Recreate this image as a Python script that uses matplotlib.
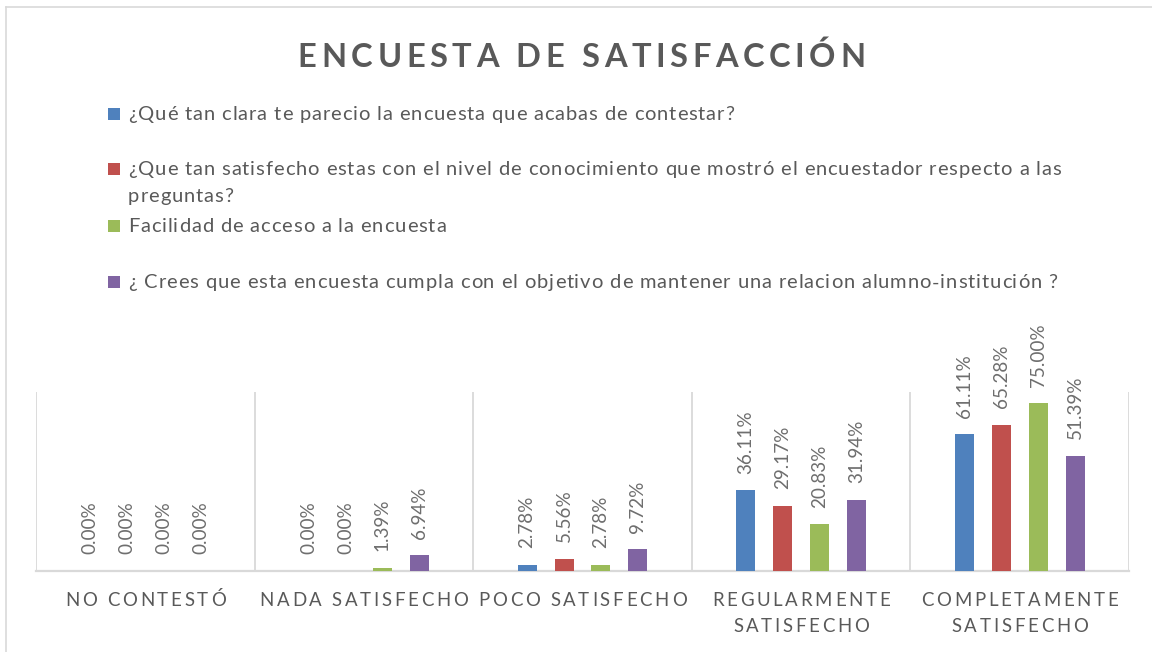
import matplotlib
matplotlib.use("Agg")
import matplotlib.pyplot as plt
from matplotlib.font_manager import FontProperties
from matplotlib.lines import Line2D
from matplotlib.patches import Rectangle
import numpy as np

# ---- data ----
title = "ENCUESTA DE SATISFACCIÓN"
categories = ["NO CONTESTÓ", "NADA SATISFECHO", "POCO SATISFECHO",
              "REGULARMENTE\nSATISFECHO", "COMPLETAMENTE\nSATISFECHO"]
series_names = [
    "¿Qué tan clara te parecio la encuesta que acabas de contestar?",
    "¿Que tan satisfecho estas con el nivel de conocimiento que mostró el encuestador respecto a las\npreguntas?",
    "Facilidad de acceso a la encuesta",
    "¿ Crees que esta encuesta cumpla con el objetivo de mantener una relacion alumno-institución ?",
]
clara = [0.00, 0.00, 2.78, 36.11, 61.11]
conocimiento = [0.00, 0.00, 5.56, 29.17, 65.28]
acceso = [0.00, 1.39, 2.78, 20.83, 75.00]
objetivo = [0.00, 6.94, 9.72, 31.94, 51.39]
series_values = [clara, conocimiento, acceso, objetivo]
colors = ["#4F81BD", "#C0504D", "#9BBB59", "#8064A2"]

# ---- layout ----
W, H, DPI = 1152, 652, 100
TEXT = "#595959"
LABEL = "#6E6E6E"
GRID = "#D9D9D9"
FONT = "Lato"

fig = plt.figure(figsize=(W / DPI, H / DPI), dpi=DPI)
fig.patch.set_facecolor("white")
renderer = fig.canvas.get_renderer()


def fx(px):
    return px / W


def fy(py):
    return 1 - py / H


def advance(s, prop):
    w, _, _ = renderer.get_text_width_height_descent(s + "|", prop, ismath=False)
    w0, _, _ = renderer.get_text_width_height_descent("|", prop, ismath=False)
    return w - w0


def spaced_text(text, x, baseline, prop, track, color, ha="center"):
    """Draw text with extra letter spacing (pixels), anchored at x."""
    total = advance(text, prop) + track * (len(text) - 1)
    x0 = x - total / 2 if ha == "center" else x
    for i, ch in enumerate(text):
        if ch == " ":
            continue
        xi = x0 + advance(text[:i], prop) + track * i
        fig.text(fx(xi), fy(baseline), ch, fontproperties=prop, color=color,
                 ha="left", va="baseline")


# chart-area border (left and top edges)
fig.add_artist(Line2D([fx(6), fx(6)], [fy(7), fy(H)], color=GRID, lw=1.2))
fig.add_artist(Line2D([fx(6), fx(W)], [fy(7), fy(7)], color=GRID, lw=1.2))

# title
title_prop = FontProperties(family=FONT, weight="bold", size=23.5)
spaced_text(title, 581.5, 66.7, title_prop, 4.6, TEXT)

# legend
leg_prop = FontProperties(family=FONT, size=14.5)
row_centers = [113, 168, 225, 281]
line_gap = 27
for name, col, yc in zip(series_names, colors, row_centers):
    fig.add_artist(Rectangle((fx(108), fy(yc + 7)), 12 / W, 12 / H,
                             transform=fig.transFigure, facecolor=col,
                             edgecolor="none"))
    for k, line in enumerate(name.split("\n")):
        spaced_text(line, 128, yc + 7.3 + k * line_gap, leg_prop, 0.9, TEXT,
                    ha="left")

# plot area
left, right, top, bottom = 36, 1129, 392, 571
ax = fig.add_axes([fx(left), fy(bottom), (right - left) / W, (bottom - top) / H])
ax.set_xlim(-0.5, len(categories) - 0.5)
ax.set_ylim(0, 80)
for s in ("left", "right", "top"):
    ax.spines[s].set_visible(False)
ax.spines["bottom"].set_color(GRID)
ax.spines["bottom"].set_linewidth(1.6)
ax.set_yticks([])
ax.set_xticks([])
ax.set_xticks(np.arange(-0.5, len(categories), 1.0), minor=True)
ax.tick_params(which="both", length=0, labelbottom=False)
ax.grid(True, which="minor", axis="x", color=GRID, lw=1.3)
ax.set_axisbelow(True)

x = np.arange(len(categories))
pitch = 37 / 219
width = 19 / 219
label_prop = FontProperties(family=FONT, size=13.6)
for i, (vals, col) in enumerate(zip(series_values, colors)):
    xs = x + (i - 1.5) * pitch
    ax.bar(xs, vals, width=width, color=col, zorder=3)
    for xi, v in zip(xs, vals):
        ax.annotate(f"{v:.2f}%", (xi, v), xytext=(0, 12), textcoords="offset points",
                    rotation=90, ha="center", va="bottom",
                    fontproperties=label_prop, color=LABEL)

# category labels with letter spacing
cat_prop = FontProperties(family=FONT, size=13.4)
for xi, cat in zip(x, categories):
    xc_disp = ax.transData.transform((xi, 0))[0]
    for k, line in enumerate(cat.split("\n")):
        spaced_text(line, xc_disp, 606 + k * 26, cat_prop, 2.7, TEXT)

fig.savefig("out.png", dpi=DPI, facecolor="white")
